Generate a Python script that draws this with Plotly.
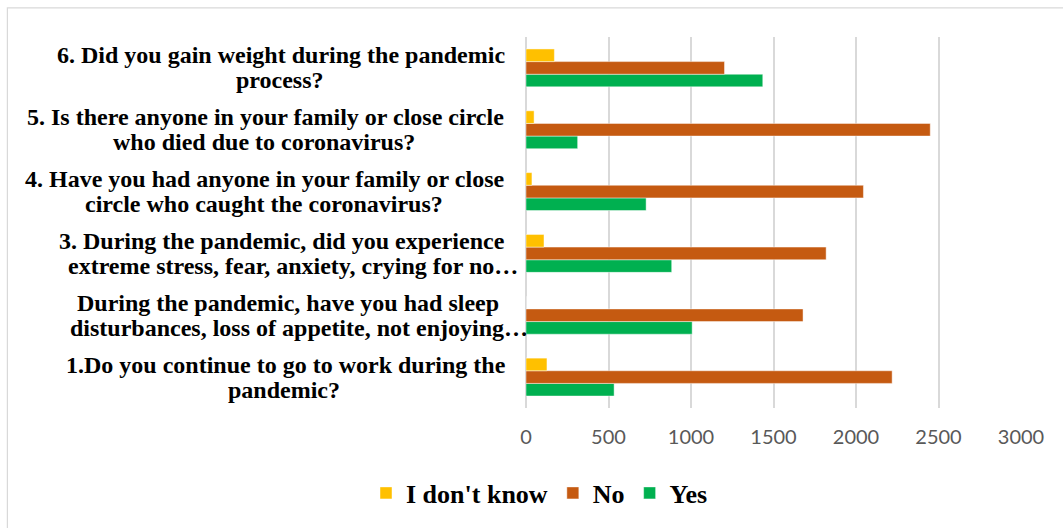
import plotly.graph_objects as go

# Survey answers per question (bottom to top on the chart)
questions = [
    ["1.Do you continue to go to work during the", "pandemic?"],
    ["During the pandemic, have you had sleep", "disturbances, loss of appetite, not enjoying…"],
    ["3. During the pandemic, did you experience", "extreme stress, fear, anxiety, crying for no…"],
    ["4. Have you had anyone in your family or close", "circle who caught the coronavirus?"],
    ["5. Is there anyone in your family or close circle", "who died due to coronavirus?"],
    ["6. Did you gain weight during the pandemic", "process?"],
]
yes_counts = [534, 1007, 883, 728, 313, 1435]
no_counts = [2219, 1679, 1819, 2045, 2450, 1203]
dont_know_counts = [127, 0, 109, 36, 49, 172]

x_ticks = [0, 500, 1000, 1500, 2000, 2500, 3000]

categories = [" ".join(q) for q in questions]

# Figure geometry (pixels)
W, H = 1063, 528
PLOT_L, PLOT_R = 526.3, 1021.0
PLOT_T, PLOT_B = 36.7, 408.5

# Horizontal centre (px) of each label line, per question
label_centres = [
    (286.7, 284.6),
    (288.4, 299.6),
    (282.4, 293.6),
    (265.2, 264.3),
    (266.0, 264.3),
    (281.2, 280.7),
]

fig = go.Figure()
series = [
    ("Yes", yes_counts, "#00B050"),
    ("No", no_counts, "#C55A11"),
    ("I don't know", dont_know_counts, "#FFC000"),
]
for name, vals, color in series:
    fig.add_trace(go.Bar(
        name="<b>%s</b>" % name, y=categories, x=vals, orientation="h",
        marker=dict(color=color, line=dict(color="rgba(255,255,255,0.45)", width=1)),
    ))

def px_to_paper_x(px):
    return (px - PLOT_L) / (PLOT_R - PLOT_L)

def py_to_paper_y(py):
    return (PLOT_B - py) / (PLOT_B - PLOT_T)

label_font = dict(family="Liberation Serif, Times New Roman, serif", size=24, color="#000000")
annotations = []
for cat, lines, centres in zip(categories, questions, label_centres):
    for i, (line, cx) in enumerate(zip(lines, centres)):
        annotations.append(dict(
            text="<b>%s</b>" % line, xref="paper", yref="y",
            x=px_to_paper_x(cx), y=cat, xanchor="center", yanchor="middle",
            yshift=12.5 if i == 0 else -12.5, showarrow=False, font=label_font,
        ))

fig.update_layout(
    width=W, height=H,
    margin=dict(l=PLOT_L, r=W - PLOT_R, t=PLOT_T, b=H - PLOT_B, pad=0),
    paper_bgcolor="#FFFFFF", plot_bgcolor="#FFFFFF",
    barmode="group", bargap=0.387, bargroupgap=0,
    xaxis=dict(
        range=[0, 3000], tickvals=x_ticks, ticktext=[str(v) for v in x_ticks],
        showgrid=True, gridcolor="#D9D9D9", gridwidth=1.7,
        zeroline=True, zerolinecolor="#D9D9D9", zerolinewidth=1.7,
        showline=False, ticks="", ticklabelstandoff=15,
        tickfont=dict(family="Lato, Open Sans, sans-serif", size=20, color="#595959"),
        fixedrange=True,
    ),
    yaxis=dict(
        type="category", categoryorder="array", categoryarray=categories,
        showticklabels=False, showgrid=False, zeroline=False, showline=False,
        ticks="", fixedrange=True,
    ),
    legend=dict(
        orientation="h", traceorder="reversed",
        xref="container", yref="container",
        x=366 / W, xanchor="left", y=1 - 493 / H, yanchor="middle",
        font=dict(family="Liberation Serif, Times New Roman, serif", size=26, color="#000000"),
        itemclick=False, itemdoubleclick=False,
    ),
    annotations=annotations,
    shapes=[dict(
        type="rect", xref="paper", yref="paper",
        x0=px_to_paper_x(8), x1=px_to_paper_x(W + 20),
        y0=py_to_paper_y(H + 20), y1=py_to_paper_y(7.5),
        line=dict(color="#D9D9D9", width=1.2), fillcolor="rgba(0,0,0,0)", layer="below",
    )],
    showlegend=True,
)

fig.write_html("out.html", config={"displayModeBar": False})
